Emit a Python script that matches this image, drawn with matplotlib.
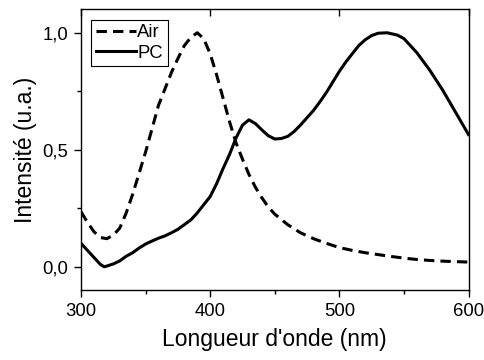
import numpy as np
import matplotlib
matplotlib.use("Agg")
import matplotlib.pyplot as plt
from matplotlib.ticker import MultipleLocator, FuncFormatter

plt.rcParams["font.family"] = ["Liberation Sans", "DejaVu Sans"]

# ── Data ──────────────────────────────────────────────────────────────────────
wl_air = [300, 305, 310, 315, 320, 325, 330, 335, 340, 345, 350, 355, 360, 365,
          370, 375, 380, 385, 390, 395, 400, 405, 410, 415, 420, 425, 430, 435,
          440, 445, 450, 460, 470, 480, 490, 500, 510, 520, 530, 540, 550, 560,
          570, 580, 590, 600]
air = [0.235, 0.19, 0.15, 0.125, 0.12, 0.135, 0.165, 0.23, 0.31, 0.40, 0.49,
       0.59, 0.69, 0.76, 0.83, 0.89, 0.945, 0.98, 1.0, 0.975, 0.91, 0.82, 0.72,
       0.62, 0.53, 0.46, 0.395, 0.34, 0.295, 0.255, 0.225, 0.18, 0.145, 0.12,
       0.10, 0.082, 0.07, 0.06, 0.052, 0.044, 0.037, 0.031, 0.027, 0.024,
       0.022, 0.02]

wl_pc = [300, 305, 310, 315, 318, 320, 325, 330, 335, 340, 345, 350, 355, 360,
         365, 370, 375, 380, 385, 390, 395, 400, 405, 410, 415, 420, 425, 430,
         435, 440, 445, 450, 455, 460, 465, 470, 475, 480, 485, 490, 495, 500,
         505, 510, 515, 520, 525, 530, 537, 545, 550, 560, 570, 580, 590, 600]
pc = [0.10, 0.07, 0.04, 0.01, 0.0, 0.003, 0.012, 0.025, 0.045, 0.06, 0.08,
      0.097, 0.11, 0.122, 0.132, 0.145, 0.16, 0.18, 0.2, 0.23, 0.265, 0.30,
      0.355, 0.42, 0.48, 0.55, 0.605, 0.628, 0.612, 0.585, 0.56, 0.546, 0.548,
      0.557, 0.578, 0.606, 0.637, 0.668, 0.705, 0.745, 0.79, 0.835, 0.875,
      0.91, 0.945, 0.97, 0.988, 0.998, 1.0, 0.99, 0.975, 0.915, 0.84, 0.755,
      0.66, 0.565]

# ── Plot ──────────────────────────────────────────────────────────────────────
fig = plt.figure(figsize=(4.85, 3.6), dpi=100)
ax = fig.add_axes([0.167, 0.194, 0.799, 0.78])

ax.plot(wl_air, air, color="black", lw=2.2, linestyle=(0, (3.4, 2.0)),
        label="Air")
ax.plot(wl_pc, pc, color="black", lw=2.2, label="PC")

ax.set_xlim(300, 600)
ax.set_ylim(-0.1, 1.1)
ax.xaxis.set_major_locator(MultipleLocator(100))
ax.xaxis.set_minor_locator(MultipleLocator(50))
ax.yaxis.set_major_locator(MultipleLocator(0.5))
ax.yaxis.set_minor_locator(MultipleLocator(0.25))
ax.yaxis.set_major_formatter(FuncFormatter(lambda v, p: f"{v:.1f}".replace(".", ",")))

ax.tick_params(which="both", direction="out", width=1, labelsize=13.3,
               top=False, right=False)
ax.tick_params(which="major", length=5, pad=4)
ax.tick_params(which="minor", length=3)

# top axis: major ticks pointing inward, no labels
sec = ax.secondary_xaxis("top")
sec.xaxis.set_major_locator(MultipleLocator(100))
sec.tick_params(direction="in", length=5, width=1, labeltop=False)
sec.spines["top"].set_visible(False)

for s in ax.spines.values():
    s.set_linewidth(1)

ax.set_xlabel("Longueur d'onde (nm)", fontsize=16.5, labelpad=6)
ax.set_ylabel("Intensité (u.a.)", fontsize=16.5, labelpad=4)

leg = ax.legend(loc="upper left", fontsize=13.3, handlelength=2.2,
                handletextpad=0.05, borderpad=0.25, labelspacing=0.2,
                borderaxespad=0.55, fancybox=False, framealpha=1)
leg.get_frame().set_edgecolor("black")
leg.get_frame().set_linewidth(0.8)

plt.savefig("out.png", dpi=100)
plt.close()
